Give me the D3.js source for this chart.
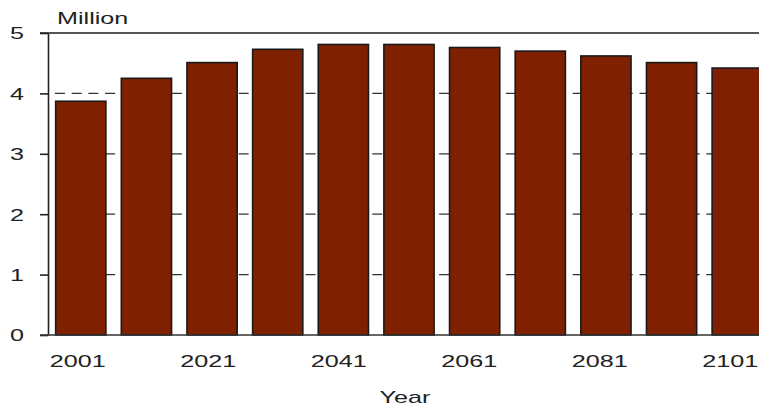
<!DOCTYPE html>
<html>
<head>
<meta charset="utf-8">
<script src="https://cdn.jsdelivr.net/npm/d3@7"></script>
<style>
body { margin:0; background:#fff; }
text { font-family: "Liberation Sans", Arial, sans-serif; font-size:17px; fill:#222; }
</style>
</head>
<body>
<svg width="759" height="407"></svg>
<script>
// data
var years = ["2001","2011","2021","2031","2041","2051","2061","2071","2081","2091","2101"];
var population = [3.87, 4.25, 4.51, 4.73, 4.81, 4.81, 4.76, 4.70, 4.62, 4.51, 4.42];
var yTicks = [0, 1, 2, 3, 4, 5];
var xLabels = ["2001","2021","2041","2061","2081","2101"];

var sx = 1.48; // text in the picture is stretched sideways
var svg = d3.select('svg');

var x = d3.scaleBand()
	.domain(years)
	.range([48, 770])
	.paddingInner(0.235)
	.paddingOuter(0.117);

var y = d3.scaleLinear()
	.domain([0, 5])
	.range([335, 33]);

// grid lines, dashed ones sit behind the bars
svg.selectAll('line.grid')
	.data(yTicks.filter(function(d){ return d > 0 && d < 5; }))
	.enter().append('line')
	.attr('class', 'grid')
	.attr('x1', 55).attr('x2', 759)
	.attr('y1', function(d){ return y(d); })
	.attr('y2', function(d){ return y(d); })
	.attr('stroke', '#333')
	.attr('stroke-width', 1.3)
	.attr('stroke-dasharray', '10,6.7');

// top line at 5
svg.append('line')
	.attr('x1', 40).attr('x2', 759)
	.attr('y1', y(5)).attr('y2', y(5))
	.attr('stroke', '#555').attr('stroke-width', 2);

// bars
svg.selectAll('rect.bar')
	.data(population)
	.enter().append('rect')
	.attr('class', 'bar')
	.attr('x', function(d, i){ return x(years[i]); })
	.attr('y', function(d){ return y(d); })
	.attr('width', x.bandwidth())
	.attr('height', function(d){ return y(0) - y(d); })
	.attr('fill', '#7f2100')
	.attr('stroke', '#1a1a1a')
	.attr('stroke-width', 1.6);

// y axis
var yAxis = svg.append('g')
	.attr('transform', 'translate(48,0)')
	.call(d3.axisLeft(y).tickValues(yTicks).tickSize(8).tickSizeOuter(0).tickFormat(d3.format('d')));
yAxis.select('.domain').attr('stroke', '#222').attr('stroke-width', 1.6);
yAxis.selectAll('.tick line').attr('stroke', '#222').attr('stroke-width', 1.6);
yAxis.selectAll('.tick text')
	.attr('x', -24 / sx)
	.attr('dy', '0.35em')
	.attr('transform', 'scale(' + sx + ',1)')
	.style('font-size', '17px')
	.style('font-family', '"Liberation Sans", Arial, sans-serif')
	.attr('fill', '#222');

// x axis line
svg.append('line')
	.attr('x1', 40).attr('x2', 759)
	.attr('y1', y(0)).attr('y2', y(0))
	.attr('stroke', '#333').attr('stroke-width', 1.6);

// x labels, every other year; they drift a little left of the bar centres
svg.selectAll('text.xlab')
	.data(xLabels)
	.enter().append('text')
	.attr('class', 'xlab')
	.attr('text-anchor', 'middle')
	.attr('transform', function(d, i){
		return 'translate(' + (x(d) + x.bandwidth() / 2 - 3 - 0.8 * i) + ',367) scale(' + sx + ',1)';
	})
	.text(function(d){ return d; });

svg.append('text')
	.attr('transform', 'translate(57,24) scale(' + sx + ',1)')
	.text('Million');

svg.append('text')
	.attr('text-anchor', 'middle')
	.attr('transform', 'translate(405,403) scale(' + sx + ',1)')
	.text('Year');
</script>
</body>
</html>
